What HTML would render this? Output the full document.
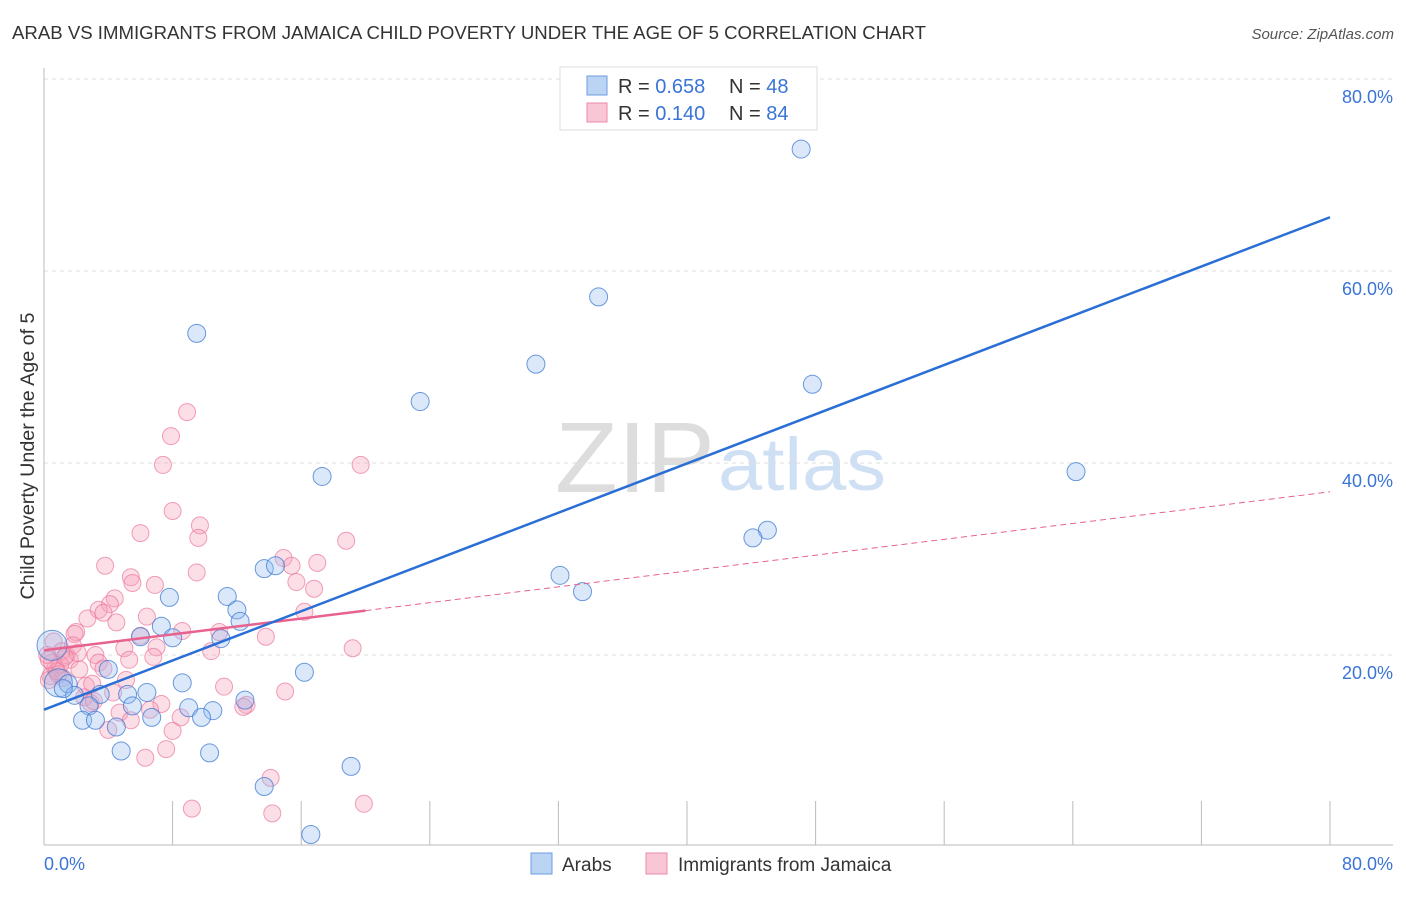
<!DOCTYPE html>
<html><head><meta charset="utf-8"><style>
body{margin:0;background:#fff;font-family:"Liberation Sans",sans-serif;}
svg text{font-family:"Liberation Sans",sans-serif;}
</style></head><body>
<svg width="1406" height="892" viewBox="0 0 1406 892">
<text x="12" y="39" font-size="18" fill="#333" textLength="914" lengthAdjust="spacingAndGlyphs">ARAB VS IMMIGRANTS FROM JAMAICA CHILD POVERTY UNDER THE AGE OF 5 CORRELATION CHART</text>
<text x="1394" y="39" font-size="15" fill="#555" font-style="italic" text-anchor="end">Source: ZipAtlas.com</text>
<text x="555" y="492" font-size="100" fill="#ddd" textLength="160" lengthAdjust="spacingAndGlyphs" font-family="Liberation Serif">ZIP</text>
<text x="718" y="490" font-size="74" fill="#cfe0f5" textLength="168" lengthAdjust="spacingAndGlyphs">atlas</text>
<g id="grid"></g>
<g id="axes"></g>
<g id="pts"></g>
<g id="lines"></g>
<text transform="translate(34,456) rotate(-90)" font-size="19" fill="#333" text-anchor="middle" textLength="287" lengthAdjust="spacingAndGlyphs">Child Poverty Under the Age of 5</text>
<text x="44" y="870" font-size="18" fill="#3a74d6">0.0%</text>
<text x="1393" y="870" font-size="18" fill="#3a74d6" text-anchor="end">80.0%</text>
<g>
<rect x="560" y="67" width="257" height="63" fill="#fff" stroke="#ddd"/>
<rect x="587" y="76" width="20" height="19" fill="#bcd4f4" stroke="#6a9be0"/>
<rect x="587" y="103" width="20" height="19" fill="#f9c6d6" stroke="#eb8aa9"/>
<text x="618" y="93" font-size="20" fill="#333">R = <tspan fill="#3a74d6">0.658</tspan></text>
<text x="729" y="93" font-size="20" fill="#333">N = <tspan fill="#3a74d6">48</tspan></text>
<text x="618" y="120" font-size="20" fill="#333">R = <tspan fill="#3a74d6">0.140</tspan></text>
<text x="729" y="120" font-size="20" fill="#333">N = <tspan fill="#3a74d6">84</tspan></text>
</g>
<g>
<rect x="531" y="853" width="21" height="21" fill="#bcd4f4" stroke="#6a9be0"/>
<text x="562" y="871" font-size="19" fill="#333">Arabs</text>
<rect x="646" y="853" width="21" height="21" fill="#f9c6d6" stroke="#eb8aa9"/>
<text x="678" y="871" font-size="19" fill="#333">Immigrants from Jamaica</text>
</g>
</svg>
<script>
const yTicks=[20,40,60,80];
const xTickVals=[8,16,24,32,40,48,56,64,72,80];
const arabX=[47.1,34.5,30.6,47.8,23.4,9.5,64.2,17.3,45.0,44.1,32.1,33.5,13.7,14.4,11.4,12.0,12.2,7.8,7.3,8.0,11.0,6.0,16.2,4.0,8.6,0.5,0.9,1.5,1.9,3.5,5.2,6.4,2.8,5.5,9.0,10.5,12.5,6.7,9.8,2.4,3.2,4.5,4.8,10.3,19.1,13.7,16.6,1.2];
const arabY=[72.7,57.3,50.3,48.2,46.4,53.5,39.1,38.6,33.0,32.2,28.3,26.6,29.0,29.3,26.1,24.7,23.5,26.0,23.0,21.8,21.7,21.9,18.2,18.5,17.1,21.0,17.1,17.0,15.8,15.9,15.9,16.1,14.7,14.7,14.5,14.2,15.3,13.5,13.5,13.2,13.2,12.5,10.0,9.8,8.4,6.3,1.3,16.5];
const arabR=[9,9,9,9,9,9,9,9,9,9,9,9,9,9,9,9,9,9,9,9,9,9,9,9,9,15,14,9,9,9,9,9,9,9,9,9,9,9,9,9,9,9,9,9,9,9,9,9];
const jamX=[8.9,7.9,7.4,19.7,8.0,9.7,6.0,9.6,18.8,14.9,15.4,17.0,3.8,9.5,5.4,5.5,6.9,15.7,16.8,4.4,4.1,3.4,3.7,16.2,2.7,4.5,6.4,2.0,1.9,8.6,10.9,6.0,13.8,5.0,7.0,0.6,1.1,1.4,3.2,10.4,19.2,5.3,6.8,0.5,1.6,0.7,3.4,3.7,2.2,1.2,0.4,5.1,11.2,15.0,4.3,2.5,2.9,7.3,3.1,6.6,12.6,12.4,8.5,4.7,5.4,8.0,4.0,7.6,6.3,14.1,9.2,14.2,19.9,0.2,0.3,1.0,2.6,1.8,0.9,3.0,2.1,1.3,0.8,0.3];
const jamY=[45.3,42.8,39.8,39.8,35.0,33.5,32.7,32.2,31.9,30.1,29.3,29.6,29.3,28.6,28.1,27.5,27.3,27.6,26.9,25.9,25.3,24.7,24.4,24.5,23.8,23.4,24.0,22.4,22.2,22.5,22.4,22.0,21.9,20.7,20.8,21.4,20.4,20.0,20.0,20.4,20.7,19.5,19.8,19.2,19.5,18.6,19.2,18.6,18.5,17.6,17.8,17.4,16.7,16.2,16.1,15.6,15.0,14.9,15.2,14.3,14.8,14.6,13.5,14.0,13.2,12.1,12.2,10.2,9.3,7.2,4.0,3.5,4.5,20.0,17.4,19.0,16.8,21.0,18.0,17.0,20.2,19.8,18.3,19.5];
const arabFit=[14.3,65.6];
const jamFit=[20.5,37.0];
const X=v=>44+v/80*1286, Y=v=>847-v/80*768;
const NS='http://www.w3.org/2000/svg';
function mk(tag,attrs,parent){const e=document.createElementNS(NS,tag);for(const k in attrs)e.setAttribute(k,attrs[k]);document.getElementById(parent).appendChild(e);return e;}
yTicks.forEach(t=>{
 const l=mk('line',{x1:44,x2:1393,y1:Y(t),y2:Y(t),stroke:'#ddd','stroke-dasharray':'4,4'},'grid');
 
 
 const tx=mk('text',{x:1393,y:Y(t)+24,'font-size':18,fill:'#3a74d6','text-anchor':'end'},'grid');
 tx.textContent=t.toFixed(1)+'%';
 
 
});
let a=mk('line',{x1:44,x2:44,y1:68,y2:845,stroke:'#bbb'},'axes');


a=mk('line',{x1:44,x2:1393,y1:845,y2:845,stroke:'#bbb'},'axes');


xTickVals.forEach(t=>{
 const l=mk('line',{x1:X(t),x2:X(t),y1:801,y2:845,stroke:'#bbb'},'axes');
 
 
});
jamX.forEach((x,i)=>{
 const c=mk('circle',{cx:X(x),cy:Y(jamY[i]),r:8.5,fill:'rgba(245,160,185,0.35)',stroke:'rgba(235,120,155,0.7)','stroke-width':1},'pts');
 
 
});
arabX.forEach((x,i)=>{
 const c=mk('circle',{cx:X(x),cy:Y(arabY[i]),r:arabR[i],fill:'rgba(150,190,240,0.35)',stroke:'rgba(60,120,210,0.75)','stroke-width':1},'pts');
 
 
});
const jy=x=>jamFit[0]+(jamFit[1]-jamFit[0])*x/80;
let ln=mk('line',{x1:X(0),y1:Y(jy(0)),x2:X(20),y2:Y(jy(20)),stroke:'#e8628f','stroke-width':2.5},'lines');


ln=mk('line',{x1:X(20),y1:Y(jy(20)),x2:X(80),y2:Y(jy(80)),stroke:'#e8628f','stroke-width':1,'stroke-dasharray':'6,4'},'lines');


ln=mk('line',{x1:X(0),y1:Y(arabFit[0]),x2:X(80),y2:Y(arabFit[1]),stroke:'#2a6fd6','stroke-width':2.5},'lines');


</script>
</body></html>
